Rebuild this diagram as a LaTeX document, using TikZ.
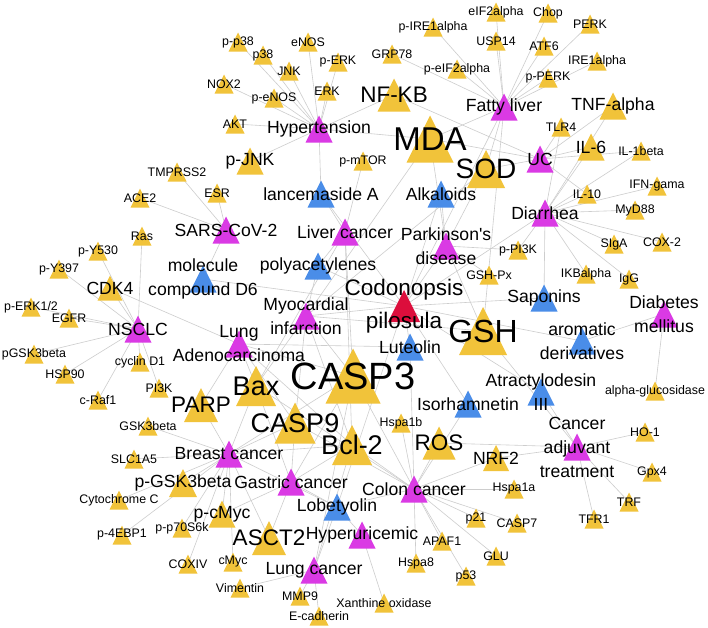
\documentclass[tikz,border=0pt]{standalone}
\usepackage{fontspec}
\setmainfont{Liberation Sans}
\definecolor{nodeGold}{RGB}{241,195,58}
\definecolor{nodeMag}{RGB}{218,58,228}
\definecolor{nodeBlue}{RGB}{74,141,232}
\definecolor{nodeRed}{RGB}{220,14,60}
\definecolor{edgeGray}{RGB}{205,205,205}
\pgfdeclarelayer{edges}
\pgfdeclarelayer{tris}
\pgfsetlayers{edges,tris,main}
\tikzset{
  lbl/.style={inner sep=0pt, align=center, text=black},
  sz12/.style={font=\fontsize{12.4}{17}\selectfont},
  sz17/.style={font=\fontsize{17.6}{24}\selectfont},
  sz22/.style={font=\fontsize{22.5}{33}\selectfont},
  sz27/.style={font=\fontsize{27}{34}\selectfont},
  sz28/.style={font=\fontsize{28}{34}\selectfont},
  sz32/.style={font=\fontsize{32}{40}\selectfont},
  sz33/.style={font=\fontsize{33}{40}\selectfont},
  sz38/.style={font=\fontsize{38}{46}\selectfont},
  link/.style={draw=edgeGray, line width=0.6pt},
}
% #1 name, #2 x,y, #3 size, #4 colour, #5 font style, #6 label
\newcommand{\nd}[6]{%
  \begin{pgfonlayer}{tris}
    \fill[#4] (#2) ++(0,-#3/2) -- ++(#3/2,#3) -- ++(-#3,0) -- cycle;
  \end{pgfonlayer}
  \node[lbl,#5] (#1) at (#2) {#6};
}
\begin{document}
\begin{tikzpicture}[x=1pt,y=-1pt]
\useasboundingbox (0,0) rectangle (708,627);
\begin{pgfonlayer}{edges}
\fill[white] (0,0) rectangle (708,627);
\end{pgfonlayer}
% targets
\nd{pp38}{238,42}{19}{nodeGold}{sz12}{p-p38}
\nd{p38}{263,55}{19}{nodeGold}{sz12}{p38}
\nd{enos}{308,42}{19}{nodeGold}{sz12}{eNOS}
\nd{jnk}{289,71}{19}{nodeGold}{sz12}{JNK}
\nd{perkp}{338,62}{19}{nodeGold}{sz12}{p-ERK}
\nd{penos}{274,98}{19}{nodeGold}{sz12}{p-eNOS}
\nd{erk}{327,91}{19}{nodeGold}{sz12}{ERK}
\nd{nox}{224,84}{19}{nodeGold}{sz12}{NOX2}
\nd{akt}{235,124}{19}{nodeGold}{sz12}{AKT}
\nd{grp}{392,54}{19}{nodeGold}{sz12}{GRP78}
\nd{pire}{433,27}{19}{nodeGold}{sz12}{p-IRE1alpha}
\nd{peif}{457,69}{19}{nodeGold}{sz12}{p-eIF2alpha}
\nd{eif}{496,12}{19}{nodeGold}{sz12}{eIF2alpha}
\nd{chop}{548,13}{19}{nodeGold}{sz12}{Chop}
\nd{perk}{590,24}{19}{nodeGold}{sz12}{PERK}
\nd{usp}{496,41}{19}{nodeGold}{sz12}{USP14}
\nd{atf}{544,46}{19}{nodeGold}{sz12}{ATF6}
\nd{ire}{597,61}{19}{nodeGold}{sz12}{IRE1alpha}
\nd{pperk}{548,78}{19}{nodeGold}{sz12}{p-PERK}
\nd{tlr}{561,127}{19}{nodeGold}{sz12}{TLR4}
\nd{ilb}{641,151}{19}{nodeGold}{sz12}{IL-1beta}
\nd{ifng}{657,186}{19}{nodeGold}{sz12}{IFN-gama}
\nd{il10}{587,194}{19}{nodeGold}{sz12}{IL-10}
\nd{myd}{635,210}{19}{nodeGold}{sz12}{MyD88}
\nd{pmtor}{363,161}{19}{nodeGold}{sz12}{p-mTOR}
\nd{tmp}{177,172}{19}{nodeGold}{sz12}{TMPRSS2}
\nd{esr}{217,193}{19}{nodeGold}{sz12}{ESR}
\nd{ace}{140,198}{19}{nodeGold}{sz12}{ACE2}
\nd{ras}{142,236}{19}{nodeGold}{sz12}{Ras}
\nd{ysf}{98,251}{19}{nodeGold}{sz12}{p-Y530}
\nd{ytn}{59,269}{19}{nodeGold}{sz12}{p-Y397}
\nd{erkot}{31,307}{19}{nodeGold}{sz12}{p-ERK1/2}
\nd{egfr}{69,318}{19}{nodeGold}{sz12}{EGFR}
\nd{pgsk}{34,354}{19}{nodeGold}{sz12}{pGSK3beta}
\nd{cycd}{140,362}{19}{nodeGold}{sz12}{cyclin D1}
\nd{hsp}{65,374}{19}{nodeGold}{sz12}{HSP90}
\nd{pik}{159,388}{19}{nodeGold}{sz12}{PI3K}
\nd{craf}{98,400}{19}{nodeGold}{sz12}{c-Raf1}
\nd{gsk}{148,426}{19}{nodeGold}{sz12}{GSK3beta}
\nd{slc}{134,459}{19}{nodeGold}{sz12}{SLC1A5}
\nd{cytc}{119,500}{19}{nodeGold}{sz12}{Cytochrome C}
\nd{ebp}{122,535}{19}{nodeGold}{sz12}{p-4EBP1}
\nd{psk}{182,528}{19}{nodeGold}{sz12}{p-p70S6k}
\nd{coxiv}{188,564}{19}{nodeGold}{sz12}{COXIV}
\nd{cmyc}{233,562}{19}{nodeGold}{sz12}{cMyc}
\nd{vim}{240,588}{19}{nodeGold}{sz12}{Vimentin}
\nd{mmp}{300,596}{19}{nodeGold}{sz12}{MMP9}
\nd{ecad}{319,616}{19}{nodeGold}{sz12}{E-cadherin}
\nd{xo}{384,603}{19}{nodeGold}{sz12}{Xanthine oxidase}
\nd{hspe}{416,563}{19}{nodeGold}{sz12}{Hspa8}
\nd{apaf}{442,541}{19}{nodeGold}{sz12}{APAF1}
\nd{pft}{466,576}{19}{nodeGold}{sz12}{p53}
\nd{glu}{496,556}{19}{nodeGold}{sz12}{GLU}
\nd{ptw}{476,518}{19}{nodeGold}{sz12}{p21}
\nd{caspS}{517,523}{19}{nodeGold}{sz12}{CASP7}
\nd{hspa}{514,489}{19}{nodeGold}{sz12}{Hspa1a}
\nd{hspb}{401,423}{19}{nodeGold}{sz12}{Hspa1b}
\nd{tfr}{594,519}{19}{nodeGold}{sz12}{TFR1}
\nd{trf}{629,502}{19}{nodeGold}{sz12}{TRF}
\nd{gpx}{652,472}{19}{nodeGold}{sz12}{Gpx4}
\nd{ho}{645,432}{19}{nodeGold}{sz12}{HO-1}
\nd{aglu}{655,391}{19}{nodeGold}{sz12}{alpha-glucosidase}
\nd{igg}{629,279}{19}{nodeGold}{sz12}{IgG}
\nd{ikb}{586,274}{19}{nodeGold}{sz12}{IKBalpha}
\nd{siga}{614,244}{19}{nodeGold}{sz12}{SIgA}
\nd{cox}{662,242}{19}{nodeGold}{sz12}{COX-2}
\nd{ppik}{518,250}{19}{nodeGold}{sz12}{p-PI3K}
\nd{gshpx}{489,275}{19}{nodeGold}{sz12}{GSH-Px}
\nd{pjnk}{250,161}{27}{nodeGold}{sz17}{p-JNK}
\nd{tnfa}{613,106}{27}{nodeGold}{sz17}{TNF-alpha}
\nd{ilsix}{591,147}{27}{nodeGold}{sz17}{IL-6}
\nd{cdk}{110,288}{25}{nodeGold}{sz17}{CDK4}
\nd{pgskb}{183,483}{28}{nodeGold}{sz17}{p-GSK3beta}
\nd{pcmyc}{222,514}{27}{nodeGold}{sz17}{p-cMyc}
\nd{nrf}{496,458}{26}{nodeGold}{sz17}{NRF2}
\nd{nfkb}{394,95}{33}{nodeGold}{sz22}{NF-KB}
\nd{parp}{201,405}{34}{nodeGold}{sz22}{PARP}
\nd{ros}{439,443}{33}{nodeGold}{sz22}{ROS}
\nd{asct}{269,538}{34}{nodeGold}{sz22}{ASCT2}
\nd{bax}{256,386}{40}{nodeGold}{sz27}{Bax}
\nd{caspN}{295,423}{41}{nodeGold}{sz27}{CASP9}
\nd{bcl}{352,445}{40}{nodeGold}{sz27}{Bcl-2}
\nd{sod}{486,169}{38}{nodeGold}{sz28}{SOD}
\nd{gsh}{483,331}{48}{nodeGold}{sz32}{GSH}
\nd{mda}{430,139}{47}{nodeGold}{sz33}{MDA}
\nd{caspT}{353,376}{55}{nodeGold}{sz38}{CASP3}
% diseases
\nd{hyp}{319,129}{27}{nodeMag}{sz17}{Hypertension}
\nd{fatty}{504,107}{27}{nodeMag}{sz17}{Fatty liver}
\nd{uc}{540,159}{27}{nodeMag}{sz17}{UC}
\nd{diar}{545,213}{27}{nodeMag}{sz17}{Diarrhea}
\nd{sars}{226,230}{27}{nodeMag}{sz17}{SARS-CoV-2}
\nd{liver}{345,232}{27}{nodeMag}{sz17}{Liver cancer}
\nd{park}{446,246}{27}{nodeMag}{sz17}{Parkinson\textquotesingle s\\disease}
\nd{nsclc}{138,329}{27}{nodeMag}{sz17}{NSCLC}
\nd{lungad}{239,344}{27}{nodeMag}{sz17}{Lung\\Adenocarcinoma}
\nd{myo}{306,316}{27}{nodeMag}{sz17}{Myocardial\\infarction}
\nd{diab}{664,314}{27}{nodeMag}{sz17}{Diabetes\\mellitus}
\nd{cat}{577,447}{27}{nodeMag}{sz17}{Cancer\\adjuvant\\treatment}
\nd{breast}{229,454}{27}{nodeMag}{sz17}{Breast cancer}
\nd{gastric}{291,482}{27}{nodeMag}{sz17}{Gastric cancer}
\nd{colon}{414,489}{27}{nodeMag}{sz17}{Colon cancer}
\nd{hyperu}{362,535}{27}{nodeMag}{sz17}{Hyperuricemic}
\nd{lungc}{314,570}{27}{nodeMag}{sz17}{Lung cancer}
% compounds
\nd{lana}{321,194}{27}{nodeBlue}{sz17}{lancemaside A}
\nd{alk}{441,194}{27}{nodeBlue}{sz17}{Alkaloids}
\nd{mcd}{203,279}{27}{nodeBlue}{sz17}{molecule\\compound D6}
\nd{poly}{318,266}{27}{nodeBlue}{sz17}{polyacetylenes}
\nd{sap}{544,298}{27}{nodeBlue}{sz17}{Saponins}
\nd{arom}{582,341}{27}{nodeBlue}{sz17}{aromatic\\derivatives}
\nd{lut}{410,347}{27}{nodeBlue}{sz17}{Luteolin}
\nd{atr}{541,392}{27}{nodeBlue}{sz17}{Atractylodesin\\III}
\nd{iso}{468,404}{27}{nodeBlue}{sz17}{Isorhamnetin}
\nd{lob}{337,507}{27}{nodeBlue}{sz17}{Lobetyolin}
\nd{cp}{404,306}{32}{nodeRed}{sz22}{Codonopsis\\pilosula}
% connectors
\begin{pgfonlayer}{edges}
\foreach \a/\b in {cp/lana,cp/alk,cp/mcd,cp/poly,cp/sap,cp/arom,cp/lut,cp/atr,cp/iso,cp/lob,
  cp/park,cp/diar,cp/fatty,cp/myo,
  lana/hyp,lana/liver,alk/park,poly/myo,poly/liver,mcd/sars,sap/diar,arom/diab,
  lut/colon,lut/lungad,atr/cat,iso/colon,lob/gastric,lob/breast,lob/colon,lob/hyperu,lob/lungc,
  hyp/pp38,hyp/p38,hyp/enos,hyp/jnk,hyp/perkp,hyp/penos,hyp/erk,hyp/nox,hyp/akt,hyp/pjnk,hyp/nfkb,hyp/mda,
  fatty/eif,fatty/chop,fatty/perk,fatty/usp,fatty/atf,fatty/ire,fatty/pperk,fatty/pire,fatty/peif,fatty/grp,
  fatty/mda,fatty/sod,fatty/gsh,
  uc/tnfa,uc/ilsix,uc/tlr,uc/il10,uc/nfkb,uc/mda,uc/sod,uc/ilb,
  diar/myd,diar/siga,diar/cox,diar/igg,diar/ikb,diar/ilsix,diar/ilb,diar/ifng,diar/il10,diar/tnfa,diar/tlr,diar/ppik,
  sars/tmp,sars/ace,sars/esr,
  liver/pmtor,liver/caspT,liver/bax,liver/bcl,
  park/gshpx,park/ppik,park/sod,park/mda,park/gsh,
  nsclc/ras,nsclc/ysf,nsclc/ytn,nsclc/erkot,nsclc/egfr,nsclc/pgsk,nsclc/hsp,nsclc/craf,nsclc/cycd,nsclc/cdk,nsclc/pik,
  lungad/cdk,lungad/parp,lungad/caspT,lungad/bax,lungad/caspN,lungad/bcl,
  myo/caspT,myo/bax,myo/bcl,myo/sod,myo/mda,myo/caspN,myo/gsh,
  diab/aglu,
  cat/ho,cat/gpx,cat/trf,cat/tfr,cat/nrf,cat/ros,cat/gsh,
  breast/slc,breast/gsk,breast/cytc,breast/ebp,breast/psk,breast/coxiv,breast/cmyc,breast/pcmyc,breast/asct,
  breast/pgskb,breast/parp,breast/caspT,breast/caspN,breast/bax,breast/bcl,
  gastric/caspT,gastric/bax,gastric/bcl,gastric/caspN,gastric/pcmyc,gastric/asct,
  colon/hspa,colon/hspb,colon/hspe,colon/ptw,colon/caspS,colon/glu,colon/pft,colon/apaf,colon/ros,
  colon/caspT,colon/caspN,colon/bcl,colon/bax,colon/nrf,
  hyperu/xo,
  lungc/mmp,lungc/ecad,lungc/vim,lungc/caspT,lungc/bcl}
  \draw[link] (\a.center) -- (\b.center);
\end{pgfonlayer}
\end{tikzpicture}
\end{document}
